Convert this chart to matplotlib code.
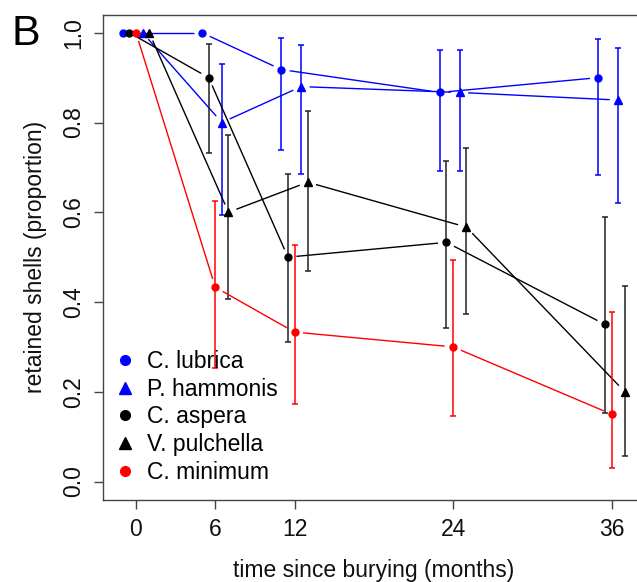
import numpy as np
import matplotlib
matplotlib.use("Agg")
import matplotlib.pyplot as plt
from matplotlib.lines import Line2D

plt.rcParams['font.family'] = ['Liberation Sans', 'DejaVu Sans']

# ---------------- data ----------------
months = [0, 6, 12, 24, 36]
xtick_labels = ["0", "6", "12", "24", "36"]
yticks = [0.0, 0.2, 0.4, 0.6, 0.8, 1.0]

species = ["C. lubrica", "P. hammonis", "C. aspera", "V. pulchella", "C. minimum"]
offsets = [-1.0, 0.5, -0.5, 1.0, 0.0]
colors = ["#0000FF", "#0000FF", "#000000", "#000000", "#FF0000"]
bar_colors = ["#0000FF", "#0000FF", "#222222", "#222222", "#FF0000"]
markers = ["o", "^", "o", "^", "o"]

nan = float("nan")
lubrica = [1.0, 1.0, 0.918, 0.867, 0.900]
lubrica_lo = [nan, nan, 0.739, 0.691, 0.682]
lubrica_hi = [nan, nan, 0.989, 0.961, 0.985]

hammonis = [1.0, 0.800, 0.880, 0.867, 0.850]
hammonis_lo = [nan, 0.593, 0.685, 0.691, 0.620]
hammonis_hi = [nan, 0.930, 0.973, 0.961, 0.965]

aspera = [1.0, 0.900, 0.500, 0.533, 0.350]
aspera_lo = [nan, 0.733, 0.311, 0.342, 0.153]
aspera_hi = [nan, 0.976, 0.685, 0.715, 0.590]

pulchella = [1.0, 0.600, 0.667, 0.567, 0.200]
pulchella_lo = [nan, 0.406, 0.470, 0.374, 0.056]
pulchella_hi = [nan, 0.773, 0.826, 0.744, 0.436]

minimum = [1.0, 0.433, 0.333, 0.300, 0.150]
minimum_lo = [nan, 0.253, 0.173, 0.147, 0.031]
minimum_hi = [nan, 0.624, 0.527, 0.493, 0.378]

values = [lubrica, hammonis, aspera, pulchella, minimum]
lows = [lubrica_lo, hammonis_lo, aspera_lo, pulchella_lo, minimum_lo]
highs = [lubrica_hi, hammonis_hi, aspera_hi, pulchella_hi, minimum_hi]

# ---------------- figure ----------------
W, H = 637, 582
fig = plt.figure(figsize=(W / 100, H / 100), dpi=100)
ax = fig.add_axes([102.7 / W, 1 - 499.5 / H, 542.2 / W, 484.7 / H])
ax.set_xlim(-2.52, 38.52)
ax.set_ylim(-0.04, 1.04)

GAP = 8.5  # px gap between line ends and points (R type="b")


def gapped_line(xs, ys, color):
    pts = ax.transData.transform(np.column_stack([xs, ys]))
    inv = ax.transData.inverted()
    for p0, p1 in zip(pts[:-1], pts[1:]):
        d = p1 - p0
        L = np.hypot(d[0], d[1])
        if L <= 2 * GAP:
            continue
        u = d / L
        a = inv.transform(p0 + u * GAP)
        b = inv.transform(p1 - u * GAP)
        ax.plot([a[0], b[0]], [a[1], b[1]], color=color, lw=1.0,
                solid_capstyle='butt')


for name, off, c, bc, m, v, lo, hi in zip(species, offsets, colors, bar_colors,
                                          markers, values, lows, highs):
    x = np.array(months, dtype=float) + off
    y = np.array(v)
    lo = np.array(lo)
    hi = np.array(hi)
    gapped_line(x, y, c)
    ok = ~np.isnan(lo)
    ax.errorbar(x[ok], y[ok], yerr=[y[ok] - lo[ok], hi[ok] - y[ok]], fmt='none',
                ecolor=bc, elinewidth=1.1, capsize=2.2, capthick=1.1)
    ax.plot(x, y, ls='none', marker=m, color=c, mec=c,
            ms=5.0 if m == 'o' else 5.8)

# axes styling
frame_c = "#444444"
for s in ax.spines.values():
    s.set_color(frame_c)
    s.set_linewidth(1.0)
ax.set_xticks(months)
ax.set_xticklabels(xtick_labels)
ax.set_yticks(yticks)
ax.set_yticklabels([f"{t:.1f}" for t in yticks], rotation=90, va='center')
ax.tick_params(direction='out', length=6.5, width=1.0, color=frame_c,
               labelsize=16.5, labelcolor='#111111')
ax.tick_params(axis='x', pad=7)
ax.tick_params(axis='y', pad=6)
ax.set_xlabel("time since burying (months)", fontsize=16.5, labelpad=13, color='#111111')
ax.set_ylabel("retained shells (proportion)", fontsize=16.5, labelpad=11, color='#111111')

handles = [Line2D([], [], ls='none', marker=m, color=c, mec=c,
                  ms=7 if m == 'o' else 8) for m, c in zip(markers, colors)]
ax.legend(handles, species, loc='upper left', bbox_to_anchor=(0.0199, 0.309),
          frameon=False, fontsize=16.5, handlelength=1.0, handletextpad=0.45,
          labelspacing=0.21, borderpad=0, borderaxespad=0)

fig.text(12 / W, 1 - 45 / H, "B", fontsize=31, va='baseline', ha='left')

fig.savefig("out.png", dpi=100)
